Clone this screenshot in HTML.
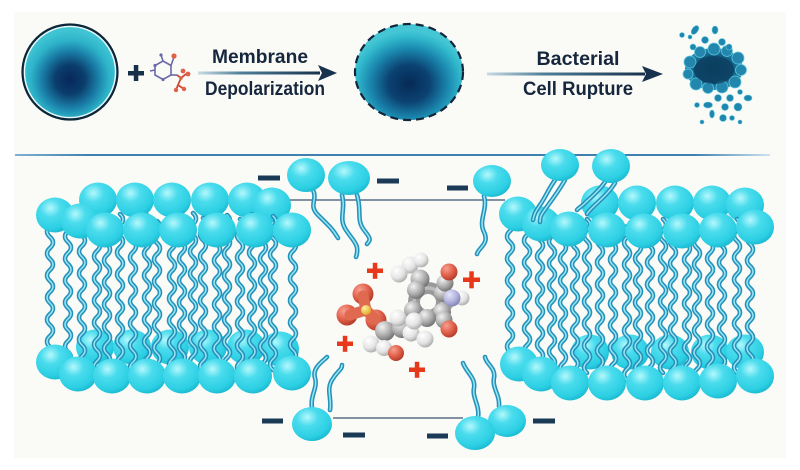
<!DOCTYPE html>
<html><head><meta charset="utf-8"><style>
html,body{margin:0;padding:0;background:#fff;}
svg{display:block;}
</style></head><body>
<svg width="800" height="470" viewBox="0 0 800 470" xmlns="http://www.w3.org/2000/svg" xmlns:xlink="http://www.w3.org/1999/xlink">
<defs>
  <radialGradient id="cell1" cx="0.5" cy="0.58" r="0.52">
    <stop offset="0" stop-color="#07285a"/>
    <stop offset="0.3" stop-color="#0b3d6c"/>
    <stop offset="0.58" stop-color="#1a7fa8"/>
    <stop offset="0.8" stop-color="#2db3c9"/>
    <stop offset="1" stop-color="#40c4d4"/>
  </radialGradient>
  <radialGradient id="cell2" cx="0.5" cy="0.62" r="0.55">
    <stop offset="0" stop-color="#062a55"/>
    <stop offset="0.35" stop-color="#0b4272"/>
    <stop offset="0.65" stop-color="#1a86ad"/>
    <stop offset="0.88" stop-color="#30b8cc"/>
    <stop offset="1" stop-color="#45c6d5"/>
  </radialGradient>
  <radialGradient id="blob" cx="0.5" cy="0.5" r="0.55">
    <stop offset="0" stop-color="#0a3a5a"/>
    <stop offset="0.6" stop-color="#125d82"/>
    <stop offset="1" stop-color="#2a9cc0"/>
  </radialGradient>
  <linearGradient id="arr1" x1="0" x2="1" y1="0" y2="0">
    <stop offset="0" stop-color="#c9dbe3"/>
    <stop offset="0.35" stop-color="#4f7f99"/>
    <stop offset="1" stop-color="#17324d"/>
  </linearGradient>
  <linearGradient id="div" x1="0" x2="1" y1="0" y2="0">
    <stop offset="0" stop-color="#7fb0d0"/>
    <stop offset="0.1" stop-color="#3f80b0"/>
    <stop offset="0.9" stop-color="#3f80b0"/>
    <stop offset="1" stop-color="#cfe2ee"/>
  </linearGradient>
  <radialGradient id="hg" cx="0.38" cy="0.3" r="0.75">
    <stop offset="0" stop-color="#b4f8fc"/>
    <stop offset="0.35" stop-color="#4adced"/>
    <stop offset="0.78" stop-color="#2ccfe3"/>
    <stop offset="1" stop-color="#18b6cd"/>
  </radialGradient>
  <radialGradient id="gC" cx="0.35" cy="0.3" r="0.75">
    <stop offset="0" stop-color="#f2f2f2"/><stop offset="0.6" stop-color="#a9a9a9"/><stop offset="1" stop-color="#6e6e6e"/>
  </radialGradient>
  <radialGradient id="gH" cx="0.35" cy="0.3" r="0.75">
    <stop offset="0" stop-color="#ffffff"/><stop offset="0.6" stop-color="#e4e4e4"/><stop offset="1" stop-color="#a8a8a8"/>
  </radialGradient>
  <radialGradient id="gO" cx="0.35" cy="0.3" r="0.75">
    <stop offset="0" stop-color="#f7a090"/><stop offset="0.55" stop-color="#e0604a"/><stop offset="1" stop-color="#b03a28"/>
  </radialGradient>
  <radialGradient id="gN" cx="0.35" cy="0.3" r="0.75">
    <stop offset="0" stop-color="#e6e6fa"/><stop offset="0.6" stop-color="#b0b0dc"/><stop offset="1" stop-color="#8080b0"/>
  </radialGradient>
  <radialGradient id="gS" cx="0.35" cy="0.3" r="0.75">
    <stop offset="0" stop-color="#fff0a0"/><stop offset="1" stop-color="#e0a820"/>
  </radialGradient>

  <ellipse id="h" rx="19" ry="17.5" fill="url(#hg)"/>
  <path id="t" d="M0,0 q6,5.5 0,11 t0,11 t0,11 t0,11 t0,11 t0,11 t0,11 t0,11 t0,11 t0,11 t0,11 t0,11 t0,11 t0,11"/>

  <g id="TL">
    <use xlink:href="#t" x="50" y="215"/><use xlink:href="#t" x="68" y="220"/>
    <use xlink:href="#t" x="82" y="213"/><use xlink:href="#t" x="97" y="218"/>
    <use xlink:href="#t" x="107" y="222"/><use xlink:href="#t" x="120" y="214"/>
    <use xlink:href="#t" x="133" y="219"/><use xlink:href="#t" x="147" y="215"/>
    <use xlink:href="#t" x="157" y="221"/><use xlink:href="#t" x="172" y="216"/>
    <use xlink:href="#t" x="182" y="220"/><use xlink:href="#t" x="193" y="213"/>
    <use xlink:href="#t" x="203" y="218"/><use xlink:href="#t" x="217" y="222"/>
    <use xlink:href="#t" x="227" y="215"/><use xlink:href="#t" x="240" y="219"/>
    <use xlink:href="#t" x="252" y="214"/><use xlink:href="#t" x="263" y="220"/>
    <use xlink:href="#t" x="273" y="216"/><use xlink:href="#t" x="293" y="218"/>
  </g>
  <g id="TR">
    <use xlink:href="#t" x="510" y="220"/><use xlink:href="#t" x="527" y="224"/>
    <use xlink:href="#t" x="540" y="218"/><use xlink:href="#t" x="552" y="225"/>
    <use xlink:href="#t" x="563" y="220"/><use xlink:href="#t" x="575" y="226"/>
    <use xlink:href="#t" x="587" y="219"/><use xlink:href="#t" x="600" y="224"/>
    <use xlink:href="#t" x="613" y="221"/><use xlink:href="#t" x="627" y="226"/>
    <use xlink:href="#t" x="638" y="220"/><use xlink:href="#t" x="650" y="224"/>
    <use xlink:href="#t" x="663" y="219"/><use xlink:href="#t" x="673" y="225"/>
    <use xlink:href="#t" x="687" y="221"/><use xlink:href="#t" x="697" y="226"/>
    <use xlink:href="#t" x="710" y="220"/><use xlink:href="#t" x="722" y="224"/>
    <use xlink:href="#t" x="737" y="219"/><use xlink:href="#t" x="750" y="222"/>
  </g>
  <g id="FT">
    <path d="M313,190 C318,200 308,205 318,215 S332,228 338,238"/>
    <path d="M342,195 C346,210 338,218 346,230 S360,245 356,257"/>
    <path d="M357,195 C362,210 356,220 364,230 S370,240 367,244"/>
    <path d="M484,196 C488,210 478,220 484,232 S478,248 477,254"/>
    <path d="M312,408 C310,395 318,388 315,378 S322,362 327,357"/>
    <path d="M330,410 C332,398 326,390 332,380 S342,370 342,365"/>
    <path d="M478,418 C480,405 472,398 474,388 S466,372 463,363"/>
    <path d="M499,406 C500,395 492,388 494,378 S486,364 485,357"/>
  </g>
  <g id="FT2">
    <path d="M555,180 C548,190 545,198 540,205 S534,215 533,220"/>
    <path d="M565,180 C558,192 552,200 546,208 S540,218 540,222"/>
    <path d="M605,182 C598,192 590,198 585,203 S578,208 577,210"/>
    <path d="M615,183 C608,194 600,200 594,206 S588,212 587,214"/>
  </g>
</defs>

<rect x="0" y="0" width="800" height="470" fill="#ffffff"/>
<rect x="14" y="12" width="772" height="446" fill="#fafaf6"/>

<!-- ===== TOP ===== -->
<!-- cell 1 -->
<circle cx="70" cy="72" r="47" fill="url(#cell1)"/>
<circle cx="70" cy="72" r="45.6" fill="none" stroke="#e8fafc" stroke-width="1.5"/>
<circle cx="70" cy="72" r="47.5" fill="none" stroke="#0f2538" stroke-width="2.2"/>

<!-- plus -->
<rect x="128" y="71" width="16" height="4.5" fill="#17304a"/>
<rect x="133.8" y="65" width="4.5" height="16" fill="#17304a"/>

<!-- small molecule -->
<g stroke="#6a6aa8" stroke-width="1.6" fill="none">
  <polygon points="163,61 171,65.5 171,75 163,79.5 155,75 155,65.5"/>
  <line x1="155" y1="70" x2="150" y2="71"/>
  <line x1="163" y1="61" x2="161" y2="55"/>
  <line x1="171" y1="65.5" x2="174" y2="57"/>
  <line x1="171" y1="75" x2="177" y2="75"/>
</g>
<g fill="#6a6aa8"><circle cx="155" cy="65.5" r="1.6"/><circle cx="163" cy="79.5" r="1.6"/><circle cx="161" cy="55" r="1.6"/></g>
<g stroke="#d04a35" stroke-width="1.8" fill="none">
  <polyline points="177,75 181,78 178,85 184,89"/>
  <line x1="181" y1="78" x2="186" y2="74"/>
  <line x1="178" y1="85" x2="176" y2="90"/>
</g>
<g fill="#e06048">
  <circle cx="174" cy="56" r="2.6"/><circle cx="183" cy="71" r="2.4"/><circle cx="188" cy="74" r="2.4"/>
  <circle cx="184" cy="89" r="2.2"/><circle cx="176" cy="90" r="2.2"/><circle cx="181" cy="78" r="1.8"/>
</g>

<!-- arrow 1 -->
<rect x="198" y="71.5" width="122" height="3" fill="url(#arr1)"/>
<polygon points="318,65 337,73 318,81 322,73" fill="#17324d"/>
<g font-family="'Liberation Sans', Arial, sans-serif" font-weight="bold" font-size="19" fill="#15263d" text-anchor="middle">
  <text x="260" y="63" textLength="96" lengthAdjust="spacingAndGlyphs">Membrane</text>
  <text x="265" y="95" textLength="120" lengthAdjust="spacingAndGlyphs">Depolarization</text>
  <text x="578" y="65" textLength="83" lengthAdjust="spacingAndGlyphs">Bacterial</text>
  <text x="578" y="95" textLength="110" lengthAdjust="spacingAndGlyphs">Cell Rupture</text>
</g>

<!-- cell 2 -->
<ellipse cx="409" cy="72" rx="54" ry="48" fill="url(#cell2)"/>
<ellipse cx="409" cy="72" rx="54" ry="48" fill="none" stroke="#14263a" stroke-width="2.2" stroke-dasharray="8 5"/>

<!-- arrow 2 -->
<rect x="487" y="72.5" width="158" height="3" fill="url(#arr1)"/>
<polygon points="642,66 663,74 642,82 646,74" fill="#17324d"/>

<!-- ruptured cell -->
<g>
  <ellipse cx="714" cy="69" rx="29" ry="21" fill="url(#blob)"/>
  <g fill="#2386ad" stroke="#5cc8de" stroke-width="0.8">
    <circle cx="690" cy="62" r="6"/><circle cx="688" cy="74" r="5"/><circle cx="696" cy="84" r="6"/>
    <circle cx="708" cy="88" r="5.5"/><circle cx="722" cy="87" r="6"/><circle cx="735" cy="82" r="6"/>
    <circle cx="741" cy="70" r="5.5"/><circle cx="738" cy="58" r="6"/><circle cx="727" cy="51" r="5.5"/>
    <circle cx="714" cy="49" r="6"/><circle cx="700" cy="52" r="5.5"/>
  </g>
  <ellipse cx="714" cy="70" rx="20" ry="14" fill="#0c3f60" opacity="0.8"/>
  <g fill="#1f86ad" stroke="#5cc8de" stroke-width="0.6">
    <circle cx="682" cy="35" r="2.5"/><ellipse cx="695" cy="30" rx="3" ry="5" transform="rotate(35 695 30)"/>
    <ellipse cx="715" cy="30" rx="3" ry="4"/><circle cx="693" cy="47" r="3"/><circle cx="705" cy="40" r="3.5"/>
    <circle cx="722" cy="42" r="3.5"/><circle cx="729" cy="47" r="3"/><circle cx="690" cy="37" r="2"/>
    <circle cx="697" cy="105" r="2.5"/><ellipse cx="708" cy="105" rx="4.5" ry="3"/><circle cx="718" cy="98" r="3.5"/>
    <circle cx="730" cy="98" r="3.5"/><circle cx="740" cy="92" r="2.5"/><ellipse cx="748" cy="98" rx="4" ry="3"/>
    <circle cx="738" cy="107" r="4"/><circle cx="725" cy="107" r="3.5"/><ellipse cx="712" cy="114" rx="2.5" ry="4"/>
    <circle cx="723" cy="118" r="3.5"/><circle cx="732" cy="118" r="2.5"/><circle cx="740" cy="122" r="2"/>
    <circle cx="702" cy="122" r="2"/>
  </g>
</g>

<!-- divider -->
<rect x="15" y="154" width="755" height="2" fill="url(#div)"/>

<!-- ===== BOTTOM ===== -->
<line x1="267" y1="200" x2="505" y2="200" stroke="#3a5572" stroke-width="1.3"/>
<line x1="333" y1="418" x2="463" y2="418" stroke="#3a5572" stroke-width="1.3"/>

<!-- left bilayer back heads -->
<g>
  <use xlink:href="#h" x="98" y="200"/><use xlink:href="#h" x="135" y="200"/><use xlink:href="#h" x="172" y="200"/>
  <use xlink:href="#h" x="210" y="200"/><use xlink:href="#h" x="247" y="200"/><use xlink:href="#h" x="272" y="205"/>
  <use xlink:href="#h" x="95" y="347"/><use xlink:href="#h" x="132" y="347"/><use xlink:href="#h" x="170" y="347"/>
  <use xlink:href="#h" x="208" y="347"/><use xlink:href="#h" x="246" y="347"/><use xlink:href="#h" x="280" y="349"/>
</g>
<!-- right bilayer back heads -->
<g>
  <use xlink:href="#h" x="600" y="203"/><use xlink:href="#h" x="637" y="203"/><use xlink:href="#h" x="675" y="203"/>
  <use xlink:href="#h" x="712" y="203"/><use xlink:href="#h" x="745" y="205"/>
  <use xlink:href="#h" x="590" y="352"/><use xlink:href="#h" x="630" y="352"/><use xlink:href="#h" x="670" y="352"/>
  <use xlink:href="#h" x="710" y="352"/><use xlink:href="#h" x="745" y="352"/>
</g>

<!-- tails -->
<g fill="none" stroke-linecap="round">
  <use xlink:href="#TL" stroke="#2592bb" stroke-width="4.6"/>
  <use xlink:href="#TL" stroke="#9be6f2" stroke-width="1.5"/>
  <use xlink:href="#TR" stroke="#2592bb" stroke-width="4.6"/>
  <use xlink:href="#TR" stroke="#9be6f2" stroke-width="1.5"/>
</g>

<!-- left front heads -->
<g>
  <use xlink:href="#h" x="55" y="215"/><use xlink:href="#h" x="80" y="221"/>
  <use xlink:href="#h" x="105" y="230"/><use xlink:href="#h" x="142" y="230"/><use xlink:href="#h" x="178" y="230"/>
  <use xlink:href="#h" x="217" y="230"/><use xlink:href="#h" x="255" y="230"/><use xlink:href="#h" x="292" y="230"/>
  <use xlink:href="#h" x="55" y="362"/><use xlink:href="#h" x="78" y="374"/>
  <use xlink:href="#h" x="112" y="376"/><use xlink:href="#h" x="147" y="376"/><use xlink:href="#h" x="182" y="376"/>
  <use xlink:href="#h" x="217" y="376"/><use xlink:href="#h" x="253" y="376"/><use xlink:href="#h" x="292" y="373"/>
</g>
<!-- right front heads -->
<g>
  <use xlink:href="#h" x="518" y="214"/><use xlink:href="#h" x="541" y="224"/>
  <use xlink:href="#h" x="569" y="229"/><use xlink:href="#h" x="607" y="230"/><use xlink:href="#h" x="644" y="231"/>
  <use xlink:href="#h" x="682" y="231"/><use xlink:href="#h" x="718" y="230"/><use xlink:href="#h" x="755" y="227"/>
  <use xlink:href="#h" x="519" y="364"/><use xlink:href="#h" x="541" y="374"/>
  <use xlink:href="#h" x="570" y="383"/><use xlink:href="#h" x="607" y="383"/><use xlink:href="#h" x="645" y="383"/>
  <use xlink:href="#h" x="682" y="383"/><use xlink:href="#h" x="718" y="381"/><use xlink:href="#h" x="755" y="376"/>
</g>

<!-- free lipids tails -->
<g fill="none" stroke-linecap="round">
  <use xlink:href="#FT" stroke="#2592bb" stroke-width="4.6"/>
  <use xlink:href="#FT" stroke="#9be6f2" stroke-width="1.5"/>
  <use xlink:href="#FT2" stroke="#2592bb" stroke-width="4.6"/>
  <use xlink:href="#FT2" stroke="#9be6f2" stroke-width="1.5"/>
</g>
<!-- free lipid heads -->
<g fill="url(#hg)">
  <ellipse cx="306" cy="175" rx="19" ry="17"/>
  <ellipse cx="349" cy="178" rx="21" ry="17"/>
  <ellipse cx="492" cy="181" rx="19" ry="16"/>
  <ellipse cx="560" cy="165" rx="19" ry="16"/>
  <ellipse cx="611" cy="166" rx="19" ry="17"/>
  <ellipse cx="312" cy="424" rx="20" ry="17"/>
  <ellipse cx="507" cy="421" rx="19" ry="16"/>
  <ellipse cx="475" cy="433" rx="20" ry="17"/>
</g>

<!-- minus signs -->
<g fill="#1b3a55">
  <rect x="258" y="175.5" width="22" height="5"/>
  <rect x="377" y="178.5" width="22" height="5"/>
  <rect x="447" y="185.5" width="21" height="5"/>
  <rect x="262" y="418.5" width="21" height="5"/>
  <rect x="343" y="432.5" width="22" height="5"/>
  <rect x="427" y="433.5" width="21" height="5"/>
  <rect x="533" y="418.5" width="22" height="5"/>
</g>

<!-- plus signs -->
<g fill="#e8381c">
  <rect x="367" y="268.5" width="16" height="4.5"/><rect x="372.8" y="262.8" width="4.5" height="16"/>
  <rect x="463" y="277.5" width="17" height="4.5"/><rect x="469.3" y="271.3" width="4.5" height="17"/>
  <rect x="337" y="341.5" width="16" height="4.5"/><rect x="342.8" y="335.8" width="4.5" height="16"/>
  <rect x="409" y="367.5" width="16" height="4.5"/><rect x="414.8" y="361.8" width="4.5" height="16"/>
</g>

<!-- molecule -->
<g>
  <g stroke="#a0a0a0" stroke-width="11" stroke-linecap="round" fill="none">
    <line x1="420" y1="278" x2="417" y2="290"/>
    <line x1="443" y1="293" x2="445" y2="283"/>
    <line x1="442" y1="312" x2="452" y2="298"/>
    <line x1="427" y1="318" x2="413" y2="318"/>
    <line x1="413" y1="318" x2="402" y2="328"/>
    <line x1="402" y1="328" x2="385" y2="330"/>
    <line x1="385" y1="330" x2="375" y2="318"/>
  </g>
  <circle cx="428" cy="302" r="14" fill="none" stroke="#9a9a9a" stroke-width="12"/>
  <circle cx="428" cy="302" r="14" fill="none" stroke="#d2d2d2" stroke-width="3.5" opacity="0.6"/>
  <circle cx="410" cy="265" r="8.5" fill="url(#gH)"/>
  <circle cx="399" cy="274" r="8.5" fill="url(#gH)"/>
  <circle cx="421" cy="260" r="7.5" fill="url(#gH)"/>
  <circle cx="420" cy="279" r="9.5" fill="url(#gC)"/>
  <circle cx="416" cy="290" r="9" fill="url(#gC)"/>
  <circle cx="443" cy="293" r="9" fill="url(#gC)"/>
  <circle cx="442" cy="312" r="9" fill="url(#gC)"/>
  <circle cx="413" cy="310" r="9" fill="url(#gC)"/>
  <circle cx="445" cy="283" r="8.5" fill="url(#gC)"/>
  <circle cx="449" cy="272" r="8.5" fill="url(#gO)"/>
  <circle cx="462" cy="298" r="7.5" fill="url(#gH)"/>
  <circle cx="452" cy="298" r="8.5" fill="url(#gN)"/>
  <circle cx="444" cy="320" r="8.5" fill="url(#gC)"/>
  <circle cx="449" cy="329" r="8.5" fill="url(#gO)"/>
  <circle cx="376" cy="320" r="10.5" fill="url(#gO)"/>
  <circle cx="347" cy="315" r="10.5" fill="url(#gO)"/>
  <circle cx="363" cy="294" r="10.5" fill="url(#gO)"/>
  <g stroke="#e06a50" stroke-width="11" stroke-linecap="round">
    <line x1="366" y1="310" x2="363" y2="296"/>
    <line x1="366" y1="310" x2="350" y2="315"/>
    <line x1="366" y1="310" x2="375" y2="319"/>
  </g>
  <circle cx="366" cy="310" r="5" fill="url(#gS)"/>
  <circle cx="385" cy="331" r="10" fill="url(#gC)"/>
  <circle cx="371" cy="344" r="8.5" fill="url(#gH)"/>
  <circle cx="384" cy="348" r="8" fill="url(#gH)"/>
  <circle cx="396" cy="353" r="8" fill="url(#gO)"/>
  <circle cx="402" cy="328" r="10" fill="url(#gC)"/>
  <circle cx="398" cy="318" r="8.5" fill="url(#gH)"/>
  <circle cx="411" cy="333" r="8.5" fill="url(#gH)"/>
  <circle cx="425" cy="339" r="8.5" fill="url(#gH)"/>
  <circle cx="427" cy="318" r="9" fill="url(#gC)"/>
  <circle cx="414" cy="321" r="8.5" fill="url(#gH)"/>
</g>
</svg>
</body></html>
